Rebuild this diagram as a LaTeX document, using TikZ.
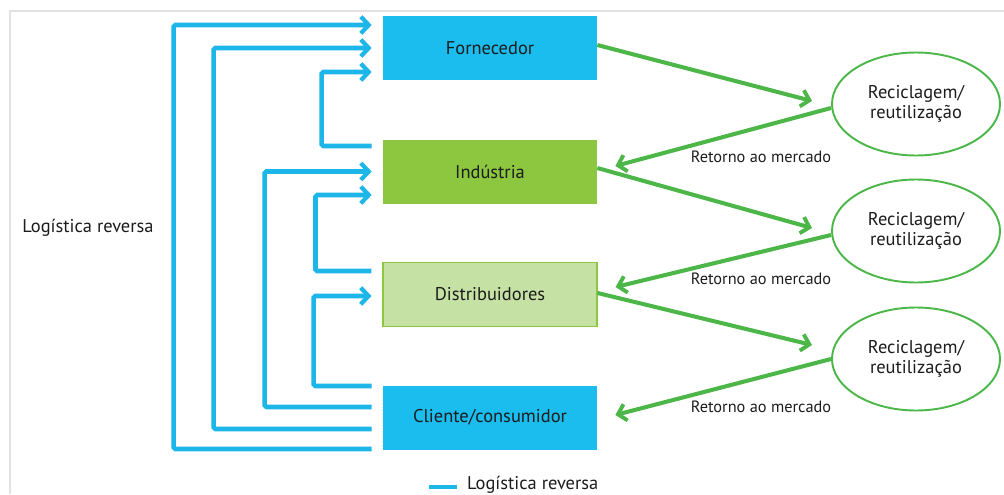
\documentclass[tikz,border=0pt]{standalone}
\usepackage{fontspec}
\setmainfont{PT Sans}
\usetikzlibrary{arrows.meta,shapes.geometric}

\definecolor{cyanbox}{HTML}{1BBCEE}
\definecolor{revblue}{HTML}{1DB6E9}
\definecolor{indgreen}{HTML}{8DC63F}
\definecolor{distgreen}{HTML}{C6E1A4}
\definecolor{arrgreen}{HTML}{4CB748}
\definecolor{txt}{HTML}{1C1C1C}
\definecolor{frame}{HTML}{E2E2E2}

\begin{document}
\begin{tikzpicture}[x=0.2mm, y=-0.2mm,
  every node/.style={text=txt, font=\fontsize{10.5}{11.5}\selectfont},
  box/.style={rectangle, minimum width=42.8mm, minimum height=12.8mm, inner sep=0pt},
  rec/.style={ellipse, draw=arrgreen, line width=1.1pt, minimum width=33.6mm,
    minimum height=20.6mm, inner sep=0pt, align=center},
  retlbl/.style={font=\fontsize{9.3}{11}\selectfont},
  rev/.style={revblue, line width=2.6pt, rounded corners=1pt},
  revarr/.style={rev, -{Straight Barb[length=4.5pt, width=9.5pt, line width=2.4pt]}},
  goarr/.style={arrgreen, line width=2.3pt, -{Straight Barb[length=4.5pt, width=9.5pt, line width=2.2pt]}}]

  \useasboundingbox (0,0) rectangle (1004,494);
  % faint frame at top and left
  \draw[frame, line width=0.6pt] (10,494) -- (10,11) -- (1004,11);

  % chain boxes
  \node[box, fill=cyanbox] (forn) at (490,48) {Fornecedor};
  \node[box, fill=indgreen] (ind) at (490,171.5) {Indústria};
  \node[box, fill=distgreen, draw=indgreen, line width=0.6pt] (dist) at (490,294.5) {Distribuidores};
  \node[box, fill=cyanbox] (cli) at (490,417.5) {Cliente/consumidor};

  % recycling ellipses
  \node[rec] (rec1) at (916,104) {Reciclagem/\\reutilização};
  \node[rec] (rec2) at (916,231) {Reciclagem/\\reutilização};
  \node[rec] (rec3) at (916,359) {Reciclagem/\\reutilização};

  % reverse logistics loops (blue)
  \draw[revarr] ([shift={(-11,31.5)}]cli.west) -- ++(-198,0) |- ([shift={(-11,-23)}]forn.west);
  \draw[revarr] ([shift={(-11,11.5)}]cli.west) -- ++(-158,0) |- ([shift={(-11,0)}]forn.west);
  \draw[revarr] ([shift={(-11,-10.5)}]cli.west) -- ++(-107,0) |- ([shift={(-11,0)}]ind.west);
  \draw[revarr] ([shift={(-11,-31.5)}]cli.west) -- ++(-58,0) |- ([shift={(-11,1.5)}]dist.west);
  \draw[revarr] ([shift={(-11,-25.5)}]ind.west) -- ++(-50,0) |- ([shift={(-11,24)}]forn.west);
  \draw[revarr] ([shift={(-11,-23.5)}]dist.west) -- ++(-56,0) |- ([shift={(-11,23.5)}]ind.west);

  % flows to recycling and back to market (green)
  \draw[goarr] ([shift={(0,-3)}]forn.east) -- ([shift={(-19,-3)}]rec1.west);
  \draw[goarr] ([shift={(0,4)}]rec1.west) -- ([shift={(18,-5.5)}]ind.east);
  \draw[goarr] ([shift={(0,-3.5)}]ind.east) -- ([shift={(-19,-3)}]rec2.west);
  \draw[goarr] ([shift={(0,4)}]rec2.west) -- ([shift={(18,-7.5)}]dist.east);
  \draw[goarr] ([shift={(0,-1.5)}]dist.east) -- ([shift={(-19,-14)}]rec3.west);
  \draw[goarr] ([shift={(0,0)}]rec3.west) -- ([shift={(18,-2.5)}]cli.east);

  % labels
  \node[retlbl] (ret1) at (761,157) {Retorno ao mercado};
  \node[retlbl] (ret2) at (761,279) {Retorno ao mercado};
  \node[retlbl] (ret3) at (761,407) {Retorno ao mercado};
  \node (side) at (88,228) {Logística reversa};

  % legend
  \node[anchor=west] (legtxt) at (461,485) {Logística reversa};
  \coordinate (leg) at (429,487);
  \draw[revblue, line width=2.6pt] (leg) -- ([shift={(-4,2)}]legtxt.west);
\end{tikzpicture}
\end{document}
